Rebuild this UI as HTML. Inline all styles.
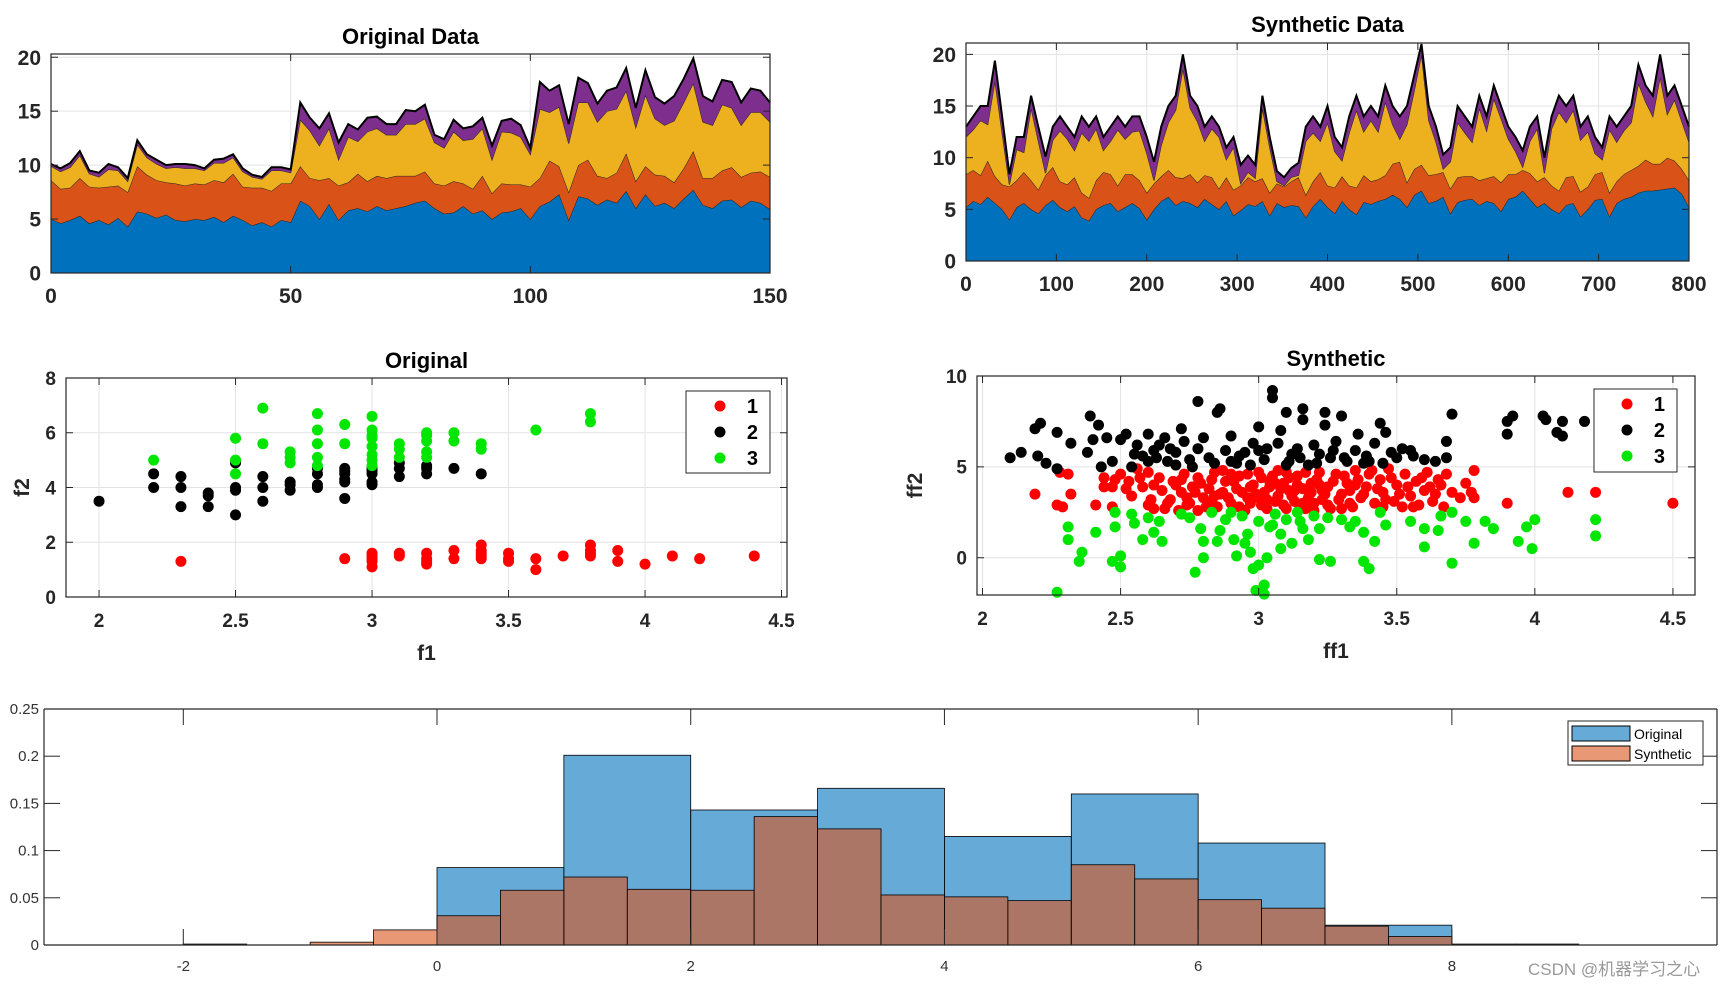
<!DOCTYPE html>
<html><head><meta charset="utf-8"><style>
html,body{margin:0;padding:0;background:#fff;}
svg{display:block;font-family:"Liberation Sans",Arial,sans-serif;}
</style></head><body>
<svg id="fig" width="1731" height="985" viewBox="0 0 1731 985"></svg>
<script>
// ---------- DATA ----------
const origX = Array.from({length:76},(_,i)=>i*2);
const origBlue = [5.0,4.6,4.9,5.3,4.6,4.9,4.5,5.1,4.3,5.7,5.5,5.1,5.4,4.9,4.8,5.0,4.9,5.2,4.7,5.3,4.9,4.4,4.7,4.3,4.9,4.7,
6.7,6.2,5.0,6.4,4.9,5.8,6.0,5.7,6.2,5.8,6.0,6.2,6.5,6.7,6.0,5.5,5.6,6.2,5.5,5.8,5.0,5.6,5.7,6.0,5.0,
6.2,6.6,7.3,4.9,7.1,6.9,6.3,6.8,6.5,7.6,6.0,7.3,6.2,6.5,6.0,6.9,7.7,6.3,6.0,6.7,6.8,6.1,6.7,6.5,5.9];
const origOrange = [3.6,3.2,3.0,3.5,3.4,3.0,3.5,3.0,3.2,4.2,3.6,3.5,3.0,3.4,3.3,3.3,3.3,3.4,3.7,3.9,3.1,3.5,3.2,3.3,3.4,3.6,
3.2,2.6,3.6,2.4,3.2,2.6,3.2,2.8,2.8,3.0,3.0,2.8,2.5,2.7,2.3,2.6,2.9,2.1,2.3,3.2,2.4,2.7,2.5,2.2,3.0,
2.6,3.8,2.6,2.6,2.9,3.6,2.7,2.0,2.8,3.5,2.5,2.6,2.9,2.5,2.4,2.8,3.6,2.5,2.8,2.8,3.0,2.8,2.6,2.9,3.0];
const origYellow = [1.3,1.6,1.9,2.1,1.2,1.0,1.6,1.4,1.0,2.0,1.6,1.5,1.3,1.5,1.6,1.4,1.3,1.6,1.8,1.5,1.4,1.0,0.8,1.9,1.2,1.0,
4.3,4.4,3.2,4.6,2.4,4.2,3.0,4.6,4.4,4.0,3.8,4.8,4.8,4.9,3.8,3.5,4.6,4.0,4.6,4.4,3.1,4.8,4.8,4.4,3.0,
6.4,4.5,5.5,4.5,5.8,5.3,5.0,6.2,5.9,5.8,5.0,6.6,5.2,4.7,5.7,6.1,6.3,5.2,4.9,6.1,5.5,4.8,5.6,5.5,5.1];
const origPurple = [0.2,0.3,0.4,0.4,0.3,0.4,0.5,0.3,0.3,0.4,0.3,0.4,0.3,0.3,0.4,0.3,0.2,0.3,0.4,0.3,0.3,0.2,0.2,0.3,0.3,0.3,
1.6,1.2,1.6,1.4,1.6,1.2,1.1,1.3,1.1,1.0,1.0,1.3,1.2,1.3,0.7,0.8,1.1,1.1,1.2,1.0,1.3,1.0,1.3,1.1,0.6,
2.5,2.0,2.0,1.8,2.3,1.8,1.7,1.9,2.0,2.1,1.8,2.3,2.0,2.0,2.3,2.2,2.3,2.4,2.2,2.3,2.4,2.1,2.2,2.0,1.8];

const synX = Array.from({length:101},(_,i)=>i*8);
const synBlue = [5.2,5.8,5.5,6.2,5.6,5.0,4.0,5.2,5.6,5.0,4.6,5.4,5.9,5.2,4.8,5.3,4.2,3.9,5.0,5.4,
5.6,4.8,5.2,5.6,5.1,4.0,5.0,5.8,6.2,5.4,5.8,5.6,5.2,6.0,5.5,5.0,5.8,4.4,4.9,5.5,
5.3,5.8,4.4,5.6,5.2,5.4,5.3,4.2,5.3,6.0,5.2,4.6,5.8,5.0,4.5,5.7,5.5,5.8,6.0,6.4,
6.0,5.2,6.4,6.8,5.6,5.8,6.2,4.6,5.7,5.9,6.0,5.4,5.8,5.6,4.8,6.0,6.2,6.8,6.0,5.2,
5.6,5.0,4.6,5.4,5.6,4.3,5.0,5.9,6.0,4.3,5.6,6.0,6.2,6.6,6.8,6.8,6.9,7.0,7.1,6.5,5.2];
const synOrange = [3.2,3.0,2.8,3.5,2.6,2.4,3.2,2.6,3.0,2.8,2.3,2.9,3.2,2.5,2.6,2.8,2.4,2.2,2.8,3.2,
2.8,2.5,3.2,2.8,2.7,2.6,2.5,2.4,2.6,2.7,2.2,2.8,2.4,2.3,2.6,2.0,2.3,2.5,2.4,2.6,
2.4,2.2,2.2,1.9,2.0,2.3,2.8,2.2,2.4,2.6,2.1,2.5,2.4,2.3,2.6,2.6,2.2,2.1,2.3,3.0,
3.6,2.4,2.5,2.5,2.7,2.6,2.4,2.4,2.4,2.3,2.2,2.4,2.2,2.6,2.8,2.4,2.2,2.0,2.5,2.5,
2.5,2.3,2.2,2.7,2.6,2.4,2.2,2.5,2.6,2.3,2.1,2.4,2.6,2.6,3.0,2.6,2.5,3.0,2.6,2.4,2.6];
const synYellow = [3.6,3.9,5.3,3.5,9.2,5.0,0.2,3.0,1.9,7.0,4.7,0.2,2.6,4.9,4.4,2.6,5.8,5.5,5.0,2.1,
3.2,5.4,3.4,4.1,4.8,3.8,0.3,3.0,4.6,6.5,10.6,6.4,5.9,3.3,4.7,5.0,1.7,4.1,0.2,0.5,
0.3,6.8,4.4,0.2,0.1,0.4,0.2,5.2,4.7,3.0,6.1,3.5,1.5,5.1,7.5,4.2,5.9,4.6,7.1,3.8,
2.2,5.6,7.6,10.7,5.3,3.1,0.3,2.6,5.3,4.2,3.3,7.0,4.6,7.5,6.2,3.4,2.2,0.3,3.1,5.1,
0.4,5.5,7.6,5.3,6.4,5.0,5.3,2.0,1.2,6.1,3.8,4.2,4.6,8.0,5.6,4.6,8.4,4.2,5.9,4.6,3.7];
const synPurple = [1.0,1.3,1.4,1.8,2.0,1.6,1.0,1.2,1.5,1.2,1.4,1.6,1.3,1.4,1.2,1.3,1.6,1.4,1.2,1.3,
1.4,1.3,1.2,1.5,1.4,1.6,1.8,1.8,1.6,1.4,1.4,1.2,1.5,1.4,1.2,1.0,1.2,1.0,1.8,1.6,
1.3,1.2,1.0,1.0,0.8,0.9,1.2,1.4,1.6,1.4,1.6,1.4,1.3,1.6,1.4,1.5,1.4,1.5,1.6,1.8,
2.2,1.8,1.5,1.0,1.4,1.5,1.4,1.4,1.6,1.6,1.5,1.2,1.4,1.3,1.2,1.2,1.4,1.6,1.4,1.2,
1.5,1.2,1.6,1.6,1.4,1.3,1.5,1.6,1.2,1.3,1.5,1.4,1.6,1.8,1.6,2.0,2.2,1.8,1.4,1.5,1.5];

const origRed = [2.3,1.3, 2.9,1.4, 3.0,1.1, 3.0,1.3, 3.0,1.4, 3.0,1.5, 3.0,1.6, 3.1,1.5, 3.1,1.6, 3.2,1.2, 3.2,1.3, 3.2,1.4, 3.2,1.6, 3.3,1.4, 3.3,1.7, 3.4,1.4, 3.4,1.5, 3.4,1.6, 3.4,1.7, 3.4,1.9, 3.5,1.3, 3.5,1.4, 3.5,1.6, 3.6,1.0, 3.6,1.4, 3.7,1.5, 3.8,1.5, 3.8,1.6, 3.8,1.7, 3.8,1.9, 3.9,1.3, 3.9,1.7, 4.0,1.2, 4.1,1.5, 4.2,1.4, 4.4,1.5];
const origBlack = [2.0,3.5, 2.2,4.0, 2.2,4.5, 2.3,3.3, 2.3,4.0, 2.3,4.4, 2.4,3.3, 2.4,3.7, 2.4,3.8, 2.5,3.0, 2.5,3.9, 2.5,4.0, 2.5,4.9, 2.6,3.5, 2.6,4.0, 2.6,4.4, 2.7,3.9, 2.7,4.1, 2.7,4.2, 2.8,4.0, 2.8,4.1, 2.8,4.5, 2.8,4.7, 2.9,3.6, 2.9,4.2, 2.9,4.3, 2.9,4.5, 2.9,4.6, 2.9,4.7, 3.0,4.1, 3.0,4.2, 3.0,4.5, 3.0,4.6, 3.0,4.7, 3.1,4.4, 3.1,4.7, 3.1,4.9, 3.2,4.5, 3.2,4.7, 3.2,4.8, 3.3,4.7, 3.4,4.5];
const origGreen = [2.2,5.0, 2.5,4.5, 2.5,5.0, 2.5,5.8, 2.6,5.6, 2.6,6.9, 2.7,4.9, 2.7,5.1, 2.7,5.3, 2.8,4.8, 2.8,5.1, 2.8,5.6, 2.8,6.1, 2.8,6.7, 2.9,5.6, 2.9,6.3, 3.0,4.8, 3.0,5.0, 3.0,5.2, 3.0,5.5, 3.0,5.8, 3.0,5.9, 3.0,6.1, 3.0,6.6, 3.1,5.1, 3.1,5.4, 3.1,5.6, 3.2,5.1, 3.2,5.3, 3.2,5.7, 3.2,5.9, 3.2,6.0, 3.3,5.7, 3.3,6.0, 3.4,5.4, 3.4,5.6, 3.6,6.1, 3.8,6.4, 3.8,6.7];

const synRed = [2.19,3.5, 2.27,2.9, 2.29,2.8, 2.28,4.7, 2.31,4.6, 2.32,3.5, 2.41,2.9, 2.44,3.9, 2.44,4.4, 2.47,2.8, 2.47,3.9, 2.5,4.6, 2.53,4.2, 2.54,3.4, 2.58,3.9, 2.6,4.7, 2.61,3.2, 2.62,2.7, 2.64,4.4, 2.66,2.7, 2.68,3.2, 2.69,4.2, 2.71,2.6, 2.72,3.6, 2.73,4.6, 2.75,3.0, 2.76,3.9, 2.78,2.6, 2.78,4.4, 2.8,3.3, 2.82,3.8, 2.84,4.7, 2.85,2.8, 2.86,3.5, 2.88,4.2, 2.9,3.0, 2.92,3.8, 2.93,4.5, 2.95,2.6, 2.96,3.3, 2.98,4.0, 3.0,4.7, 3.01,2.9, 3.02,3.6, 3.04,4.2, 3.06,3.1, 3.07,4.8, 3.08,3.8, 3.1,2.7, 3.11,4.4, 3.12,3.4, 3.14,4.0, 3.16,3.0, 3.17,4.7, 3.19,3.6, 3.2,2.6, 3.21,4.3, 3.23,3.2, 3.25,3.9, 3.26,2.7, 3.28,4.6, 3.3,3.5, 3.32,4.1, 3.34,2.8, 3.35,4.8, 3.37,3.3, 3.39,3.9, 3.4,4.6, 3.42,3.0, 3.44,4.3, 3.45,3.6, 3.47,4.9, 3.49,3.1, 3.5,4.0, 3.52,2.8, 3.53,4.6, 3.55,3.4, 3.57,4.2, 3.58,2.9, 3.6,3.7, 3.61,4.7, 3.63,3.1, 3.65,4.3, 3.67,2.8, 3.68,4.6, 3.7,3.6, 3.73,3.3, 3.75,4.1, 3.77,3.6, 3.78,4.8, 3.78,3.3, 3.9,3.0, 4.12,3.6, 4.22,3.6, 4.5,3.0,
2.74,2.9, 2.83,3.1, 2.9,4.6, 2.97,3.9, 3.03,3.2, 3.05,4.5, 3.13,3.7, 3.15,2.8, 3.22,4.0, 3.24,3.5, 2.7,4.0, 2.87,3.6, 3.0,3.3, 3.09,4.1, 3.18,3.3, 3.33,3.7, 3.36,4.3, 3.46,3.2, 2.65,3.7, 2.57,4.4,
2.72,4.3, 2.74,3.3, 2.77,3.6, 2.79,4.1, 2.81,2.8, 2.83,4.3, 2.84,3.4, 2.87,4.8, 2.89,3.3, 2.91,4.2, 2.93,2.8, 2.94,3.6, 2.96,4.6, 2.97,3.0, 2.99,3.5, 3.01,4.4, 3.03,2.7, 3.04,3.9, 3.06,4.1, 3.07,3.4, 3.09,2.9, 3.1,4.7, 3.11,3.7, 3.13,3.1, 3.14,4.5, 3.16,3.8, 3.17,2.7, 3.19,4.1, 3.2,3.0, 3.22,4.7, 3.23,3.7, 3.25,2.9, 3.27,4.2, 3.29,3.2, 3.3,2.7, 3.31,4.5, 3.33,3.0, 3.35,4.0, 3.38,3.5, 3.41,4.8, 3.43,3.8, 3.45,2.8, 3.48,4.4, 3.51,3.5, 3.54,3.9, 3.56,2.8, 3.59,4.4, 3.62,3.9, 3.64,3.5, 3.66,4.0, 2.62,4.0, 2.67,3.0, 2.6,2.9, 2.56,4.9, 2.52,3.8, 2.48,4.3];
const synBlack = [2.1,5.5, 2.14,5.8, 2.19,7.1, 2.21,7.4, 2.2,5.6, 2.23,5.2, 2.27,6.9, 2.27,4.9, 2.32,6.3, 2.38,5.8, 2.39,7.8, 2.4,6.5, 2.42,7.3, 2.43,5.0, 2.45,6.6, 2.47,5.3, 2.5,6.5, 2.52,6.8, 2.54,5.0, 2.56,6.2, 2.58,5.6, 2.6,6.8, 2.62,5.9, 2.64,6.2, 2.66,6.6, 2.67,5.3, 2.7,5.8, 2.72,7.1, 2.73,6.4, 2.76,5.0, 2.78,8.6, 2.8,6.6, 2.82,5.5, 2.85,8.0, 2.86,8.2, 2.88,5.9, 2.9,6.7, 2.92,5.2, 2.95,5.8, 2.98,6.3, 3.0,7.2, 3.02,5.4, 3.05,9.2, 3.05,8.8, 3.07,6.3, 3.08,7.0, 3.1,8.0, 3.12,5.7, 3.14,6.0, 3.16,7.6, 3.16,8.2, 3.18,5.1, 3.2,6.2, 3.22,5.7, 3.24,7.3, 3.24,8.0, 3.26,5.5, 3.28,6.4, 3.3,7.8, 3.32,5.3, 3.36,6.8, 3.38,5.2, 3.42,6.3, 3.44,7.4, 3.46,6.9, 3.48,5.8, 3.5,5.5, 3.52,6.0, 3.56,5.6, 3.6,5.4, 3.64,5.3, 3.68,6.4, 3.7,7.9, 3.68,5.5, 3.9,6.8, 3.9,7.5, 3.92,7.8, 4.03,7.8, 4.04,7.6, 4.08,6.9, 4.1,6.7, 4.1,7.5, 4.18,7.5, 2.6,5.3, 2.9,5.3, 3.0,5.9, 3.1,5.1, 2.7,5.1, 3.4,5.3, 3.55,5.9, 3.35,5.9,
2.55,5.7, 2.63,5.5, 2.68,6.0, 2.75,5.4, 2.78,6.0, 2.84,5.2, 2.93,5.6, 2.97,5.1, 3.03,6.0, 3.11,5.3, 3.15,5.5, 3.21,5.2, 3.27,5.9, 3.31,5.5, 3.39,5.6, 3.45,5.2];
const synGreen = [2.27,-1.9, 2.31,1.7, 2.31,1.0, 2.35,-0.2, 2.36,0.3, 2.41,1.4, 2.47,-0.2, 2.48,2.5, 2.48,1.7, 2.5,0.1, 2.5,-0.5, 2.54,2.4, 2.55,1.9, 2.58,1.0, 2.6,2.2, 2.62,1.4, 2.64,2.0, 2.65,0.9, 2.72,2.4, 2.75,2.2, 2.77,-0.8, 2.79,1.6, 2.8,0.9, 2.8,0.0, 2.83,2.5, 2.85,0.9, 2.9,2.5, 2.91,1.0, 2.92,0.1, 2.94,2.3, 2.95,0.8, 2.96,1.3, 2.97,0.3, 2.98,-0.6, 2.99,-1.8, 3.0,-0.4, 3.02,-2.0, 3.02,-1.5, 3.03,0.0, 3.04,1.7, 3.06,2.4, 3.08,1.3, 3.08,0.5, 3.1,2.1, 3.12,0.8, 3.14,2.5, 3.16,1.6, 3.18,1.0, 3.2,2.3, 3.22,1.6, 3.22,-0.1, 3.25,2.2, 3.26,-0.2, 3.3,2.1, 3.35,2.0, 3.38,1.4, 3.38,-0.2, 3.4,-0.6, 3.42,0.9, 3.44,2.5, 3.46,1.8, 3.55,2.0, 3.6,1.6, 3.6,0.6, 3.65,1.5, 3.66,2.3, 3.7,2.5, 3.7,-0.3, 3.75,2.0, 3.78,0.8, 3.82,2.0, 3.85,1.6, 3.94,0.9, 3.97,1.7, 3.99,0.5, 4.0,2.1, 4.22,2.1, 4.22,1.2, 2.86,1.5, 3.05,1.8, 3.0,2.0, 3.15,2.0, 2.88,2.1, 3.33,1.7];

const histOrigEdges = [0,1,2,3,4,5,6,7,8];
const histOrigVals = [0.082,0.201,0.143,0.166,0.115,0.160,0.108,0.021];
const histSynEdges = [-2.5,-2,-1.5,-1,-0.5,0,0.5,1,1.5,2,2.5,3,3.5,4,4.5,5,5.5,6,6.5,7,7.5,8,8.5,9];
const histSynVals = [0,0.001,0,0.003,0.016,0.031,0.058,0.072,0.059,0.058,0.136,0.123,0.053,0.051,0.047,0.085,0.070,0.048,0.039,0.020,0.009,0.001,0.001];

const stackTicksY = [0,5,10,15,20];
const origTicksX = [0,50,100,150];
const synTicksX = [0,100,200,300,400,500,600,700,800];
const scatTicksX = [2,2.5,3,3.5,4,4.5];
const origScatTicksY = [0,2,4,6,8];
const synScatTicksY = [0,5,10];
const histTicksX = [-2,0,2,4,6,8];
const histTicksY = [0,0.05,0.1,0.15,0.2,0.25];

// ---------- HELPERS ----------
const NS="http://www.w3.org/2000/svg";
const svg=document.getElementById('fig');
function mk(tag,attrs,parent){const e=document.createElementNS(NS,tag);for(const k in attrs)e.setAttribute(k,attrs[k]);(parent||svg).appendChild(e);return e;}
function txt(s,x,y,attrs,parent){const t=mk('text',Object.assign({x:x,y:y},attrs),parent);t.textContent=s;return t;}
function scale(d0,d1,r0,r1){return v=>r0+(v-d0)/(d1-d0)*(r1-r0);}

function axesFrame(g,L,T,R,B,sx,sy,xt,yt){
  xt.forEach(v=>mk('line',{x1:sx(v),x2:sx(v),y1:T,y2:B,stroke:'#e3e3e3','stroke-width':1},g));
  yt.forEach(v=>mk('line',{x1:L,x2:R,y1:sy(v),y2:sy(v),stroke:'#e3e3e3','stroke-width':1},g));
}
function axesBox(g,L,T,R,B,sx,sy,xt,yt,opt){
  mk('rect',{x:L,y:T,width:R-L,height:B-T,fill:'none',stroke:'#262626','stroke-width':1.2},g);
  const tl=opt.tick||7;
  xt.forEach(v=>{const x=sx(v);
    mk('line',{x1:x,x2:x,y1:B,y2:B-tl,stroke:'#262626'},g);
    mk('line',{x1:x,x2:x,y1:T,y2:T+tl,stroke:'#262626'},g);
    const t=txt(String(v),x,B+opt.xlOff,{'text-anchor':'middle','font-size':opt.fs,'font-weight':'bold',fill:'#262626'},g);
    
  });
  yt.forEach(v=>{const y=sy(v);
    mk('line',{x1:L,x2:L+tl,y1:y,y2:y,stroke:'#262626'},g);
    mk('line',{x1:R,x2:R-tl,y1:y,y2:y,stroke:'#262626'},g);
    const t=txt(String(v),L-opt.ylOff,y+opt.fs*0.36,{'text-anchor':'end','font-size':opt.fs,'font-weight':'bold',fill:'#262626'},g);
    
  });
}

function stackPlot(name,title,L,T,R,B,xmax,ymax,xs,layers,xt,titleY){
  const g=mk('g',{});
  
  
  const sx=scale(0,xmax,L,R), sy=scale(0,ymax,B,T);
  axesFrame(g,L,T,R,B,sx,sy,xt,stackTicksY);
  const cols=['#0072BD','#D95319','#EDB120','#7E2F8E'];
  const names=['area-series-1','area-series-2','area-series-3','area-series-4'];
  let base=xs.map(()=>0);
  layers.forEach((arr,li)=>{
    const top=arr.map((v,i)=>base[i]+v);
    let d='M'+xs.map((x,i)=>sx(x).toFixed(1)+','+sy(top[i]).toFixed(1)).join(' L');
    for(let i=xs.length-1;i>=0;i--) d+=' L'+sx(xs[i]).toFixed(1)+','+sy(base[i]).toFixed(1);
    d+='Z';
    const p=mk('path',{d:d,fill:cols[li],stroke:'none'},g);
    
    
    const ln='M'+xs.map((x,i)=>sx(x).toFixed(1)+','+sy(top[i]).toFixed(1)).join(' L');
    mk('path',{d:ln,fill:'none',stroke:li==3?'#000':'#222','stroke-width':li==3?2:1},g);
    base=top;
  });
  axesBox(g,L,T,R,B,sx,sy,xt,stackTicksY,{fs:21,xlOff:30,ylOff:10,tick:7});
  const t=txt(title,(L+R)/2,titleY,{'text-anchor':'middle','font-size':22,'font-weight':'bold',fill:'#000'},g);
  
}

function pairs(a){const r=[];for(let i=0;i<a.length;i+=2)r.push([a[i],a[i+1]]);return r;}

function scatterPlot(name,title,xl,yl,L,T,R,B,x0,x1,y0,y1,yt,sets,leg,titleY,ylX){
  const g=mk('g',{});
  
  
  const sx=scale(x0,x1,L,R), sy=scale(y0,y1,B,T);
  axesFrame(g,L,T,R,B,sx,sy,scatTicksX,yt);
  const cols=['#ff0000','#000000','#00e600'];
  sets.forEach((s,si)=>{
    pairs(s).forEach(p=>{
      const c=mk('circle',{cx:sx(p[0]),cy:sy(p[1]),r:5.5,fill:cols[si]},g);
      
      
    });
  });
  axesBox(g,L,T,R,B,sx,sy,scatTicksX,yt,{fs:19,xlOff:30,ylOff:10,tick:7});
  const t=txt(title,(L+R)/2,titleY,{'text-anchor':'middle','font-size':22,'font-weight':'bold',fill:'#000'},g);
  
  const xlab=txt(xl,(L+R)/2,B+63,{'text-anchor':'middle','font-size':21,'font-weight':'bold',fill:'#262626'},g);
  
  const cy=(T+B)/2;
  const ylab=txt(yl,ylX,cy,{'text-anchor':'middle','font-size':21,'font-weight':'bold',fill:'#262626',transform:'rotate(-90 '+ylX+' '+cy+')'},g);
  
  const lg=mk('g',{},g);
  
  
  mk('rect',{x:leg[0],y:leg[1],width:leg[2],height:leg[3],fill:'#fff',stroke:'#262626','stroke-width':1},lg);
  ['1','2','3'].forEach((s,i)=>{
    const yy=leg[1]+15+i*26;
    const e=mk('g',{},lg);
    
    
    mk('circle',{cx:leg[0]+leg[2]-50,cy:yy,r:5.5,fill:cols[i]},e);
    txt(s,leg[0]+leg[2]-12,yy+7,{'text-anchor':'end','font-size':20,'font-weight':'bold',fill:'#000'},e);
  });
}

// ---------- DRAW ----------
stackPlot('original-data-chart','Original Data',51,54,770,273,150,20.3,origX,[origBlue,origOrange,origYellow,origPurple],origTicksX,44);
stackPlot('synthetic-data-chart','Synthetic Data',966,43,1689,261,800,21.1,synX,[synBlue,synOrange,synYellow,synPurple],synTicksX,32);

scatterPlot('original-scatter','Original','f1','f2',66,378,787,597,1.879,4.52,0,8,origScatTicksY,[origRed,origBlack,origGreen],[686,391,84,82],368,29);
scatterPlot('synthetic-scatter','Synthetic','ff1','ff2',977,376,1695,595,1.98,4.58,-2.05,10,synScatTicksY,[synRed,synBlack,synGreen],[1594,389,83,83],366,922);

(function(){
  const g=mk('g',{});
  
  
  const L=44,T=709,R=1717,B=945;
  const sx=scale(-3.098,10.09,L,R), sy=scale(0,0.25,B,T);
  function bars(edges,vals,fill,name){
    vals.forEach((v,i)=>{
      if(v<=0)return;
      const x=sx(edges[i]),w=sx(edges[i+1])-x,y=sy(v);
      const r=mk('rect',{x:x,y:y,width:w,height:B-y,fill:fill,'fill-opacity':0.6,stroke:'#000','stroke-width':0.8},g);
      
      
    });
  }
  bars(histOrigEdges,histOrigVals,'#0072BD','hist-bar-original');
  bars(histSynEdges,histSynVals,'#D95319','hist-bar-synthetic');
  mk('line',{x1:L,x2:R,y1:B,y2:B,stroke:'#262626','stroke-width':1.2},g);
  mk('line',{x1:L,x2:R,y1:T,y2:T,stroke:'#262626','stroke-width':1.2},g);
  mk('line',{x1:L,x2:L,y1:T,y2:B,stroke:'#262626','stroke-width':1.2},g);
  mk('line',{x1:R,x2:R,y1:T,y2:B,stroke:'#262626','stroke-width':1.2},g);
  histTicksX.forEach(v=>{const x=sx(v);
    mk('line',{x1:x,x2:x,y1:B,y2:B-16,stroke:'#262626'},g);
    mk('line',{x1:x,x2:x,y1:T,y2:T+16,stroke:'#262626'},g);
    const t=txt(String(v),x,B+26,{'text-anchor':'middle','font-size':15,fill:'#333'},g);
    
  });
  histTicksY.forEach(v=>{const y=sy(v);
    mk('line',{x1:L,x2:L+16,y1:y,y2:y,stroke:'#262626'},g);
    mk('line',{x1:R,x2:R-16,y1:y,y2:y,stroke:'#262626'},g);
    const t=txt(String(v),L-5,y+5,{'text-anchor':'end','font-size':15,fill:'#333'},g);
    
  });
  const lg=mk('g',{},g);
  
  
  mk('rect',{x:1568,y:721,width:135,height:44,fill:'#fff',stroke:'#262626'},lg);
  [['Original','#0072BD'],['Synthetic','#D95319']].forEach((e,i)=>{
    const eg=mk('g',{},lg);
    
    
    mk('rect',{x:1572,y:726+i*20,width:58,height:15,fill:e[1],'fill-opacity':0.6,stroke:'#000'},eg);
    txt(e[0],1634,739+i*20,{'font-size':14,fill:'#000'},eg);
  });
})();
const wm=txt('CSDN @机器学习之心',1528,975,{'font-size':17,fill:'#999','font-family':'"Liberation Sans","Noto Sans CJK SC",sans-serif'});


</script>
</body></html>
